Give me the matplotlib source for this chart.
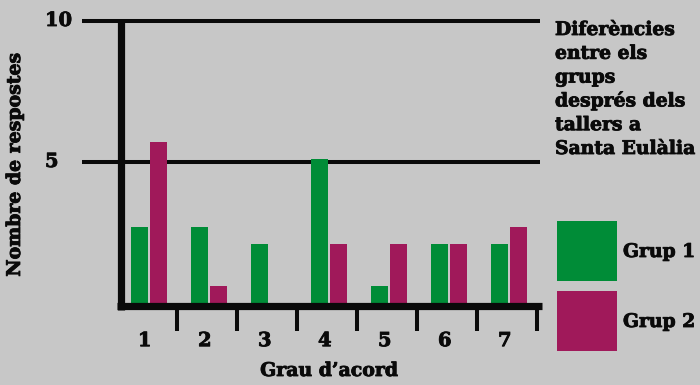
import matplotlib
matplotlib.use("Agg")
import matplotlib.pyplot as plt
import matplotlib.transforms as mtransforms
import matplotlib.patheffects as pe
from matplotlib.patches import Rectangle
import numpy as np

# data
categories = ["1", "2", "3", "4", "5", "6", "7"]
grup1 = [2.7, 2.7, 2.1, 5.1, 0.6, 2.1, 2.1]
grup2 = [5.7, 0.6, 0.0, 2.1, 2.1, 2.1, 2.7]
series_names = ["Grup 1", "Grup 2"]
ytick_vals = [5, 10]
title_lines = ["Diferències", "entre els", "grups", "després dels",
               "tallers a", "Santa Eulàlia"]

bg = "#c7c7c7"
green = "#008c37"
magenta = "#a0195a"
ink = "#0a0a0a"

plt.rcParams['font.family'] = ['DejaVu Serif']
plt.rcParams['font.weight'] = 'bold'

# slight extra weight, the original face is very heavy
heavy = [pe.withStroke(linewidth=0.6, foreground=ink)]

W, H = 700, 385
fig = plt.figure(figsize=(7, 3.85), dpi=100, facecolor=bg)
# axes placed in pixel terms: 60 px per category, y=0 at 303 px, y=10 at 21 px
ax = fig.add_axes([119 / W, (H - 303) / H, 420 / W, 282 / H])
ax.set_facecolor(bg)

x = np.arange(len(categories))
bw = 0.283
ax.bar(x - bw / 2 - 0.017, grup1, bw, color=green, zorder=2)
ax.bar(x + bw / 2 + 0.017, grup2, bw, color=magenta, zorder=2)

ax.set_xlim(-0.5, 6.5)
ax.set_ylim(0, 10)
for s in ax.spines.values():
    s.set_visible(False)

# horizontal guide lines, running left of the y axis
ax.hlines(ytick_vals, -1.12, 6.52, color=ink, lw=2.9, clip_on=False, zorder=1)
# thick axis lines
ax.vlines(-0.475, -0.25, 10.0, color=ink, lw=5.2, clip_on=False, zorder=3)
ax.hlines(-0.12, -0.53, 6.55, color=ink, lw=5.2, clip_on=False, zorder=3)

# category labels + separator ticks
ax.set_xticks(x - 0.07, categories)
ax.set_xticks(x + 0.47, minor=True)
ax.tick_params(axis='x', which='major', length=0, pad=21, labelsize=14, colors=ink)
ax.tick_params(axis='x', which='minor', length=20, width=2.9, color=ink, direction='out')
ax.set_yticks([])
for lab in ax.get_xticklabels():
    lab.set_path_effects(heavy)

trans = mtransforms.blended_transform_factory(fig.transFigure, ax.transData)
for v in ytick_vals:
    ax.text(45 / W, v, str(v), transform=trans, ha='left', va='center',
            fontsize=14, color=ink, path_effects=heavy)

fig.text(15 / W, 1 - 165 / H, "Nombre de respostes", rotation=90,
         ha='center', va='center', fontsize=13.6, color=ink, path_effects=heavy)
fig.text(329 / W, 1 - 371 / H, "Grau d’acord", ha='center', va='center',
         fontsize=13.6, color=ink, path_effects=heavy)

# title block, one line at a time for even spacing
for i, line in enumerate(title_lines):
    fig.text(555 / W, 1 - (35 + 23.8 * i) / H, line, ha='left', va='baseline',
             fontsize=13.5, color=ink, path_effects=heavy)

# legend: big colour squares with labels
for i, (name, col) in enumerate(zip(series_names, [green, magenta])):
    top = 221 + i * 70
    fig.add_artist(Rectangle((557 / W, 1 - (top + 60) / H), 60 / W, 60 / H,
                             transform=fig.transFigure, color=col, lw=0))
    fig.text(623 / W, 1 - (top + 31) / H, name, ha='left', va='center',
             fontsize=13.5, color=ink, path_effects=heavy)

fig.savefig("out.png", dpi=100, facecolor=bg)
